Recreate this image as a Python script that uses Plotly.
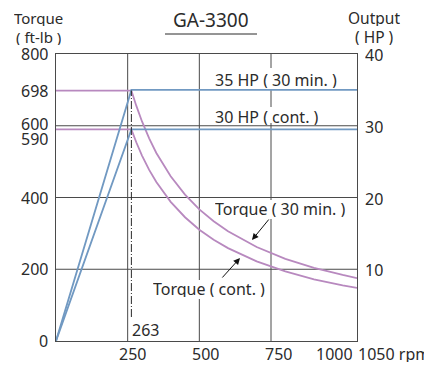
import plotly.graph_objects as go

# ---- data ----
power_rpm = [0, 263, 1050]
hp_30min = [0, 35, 35]
hp_cont = [0, 29.5, 29.5]

torque_rpm = [0, 263, 280, 300, 325, 350, 400, 450, 500, 550, 600, 700, 800, 900, 1000, 1050]
torque_30min = [698, 698, 656, 612, 565, 524, 459, 408, 367, 334, 306, 262, 229, 204, 184, 175]
torque_cont = [590, 590, 554, 517, 477, 443, 388, 345, 310, 282, 259, 222, 194, 172, 155, 148]

base_rpm = 263
x_ticks = [250, 500, 750, 1000, 1050]
x_tick_text = ["250", "500", "750", "1000", "1050 rpm"]
y_ticks = [0, 200, 400, 590, 600, 698, 800]
y2_ticks = [10, 20, 30, 40]
grid_x = [250, 500, 750]
grid_y = [200, 400, 600]

BLUE = "#7199c2"
PURPLE = "#b889bf"
TEXT = "#2b2b2b"
GRID = "#4a4a4a"
FONT = "Noto Sans"
FS = 16

# page body has an 8px margin: work in window pixels, convert to figure
OFF = 8
L, R, T, B = 56, 357, 54, 341          # plot area in window pixels
W, H = 432 - OFF, 365 - OFF


def px(x, y):
    return (x - L) / (R - L), (B - y) / (B - T)


fig = go.Figure()

# grid lines
for gx in grid_x:
    fig.add_shape(type="line", xref="x", yref="paper", x0=gx, x1=gx, y0=0, y1=1,
                  line=dict(color=GRID, width=1), layer="below")
for gy in grid_y:
    fig.add_shape(type="line", xref="paper", yref="y", x0=0, x1=1, y0=gy, y1=gy,
                  line=dict(color=GRID, width=1), layer="below")

# white knock-outs behind the curve labels (below traces, above grid)
for (x0, y0, x1, y1) in [(212, 68, 341, 89), (212, 107, 323, 123),
                         (212, 200, 350, 219), (150, 280, 268, 299)]:
    a0, b0 = px(x0, y1)
    a1, b1 = px(x1, y0)
    fig.add_shape(type="rect", xref="paper", yref="paper", x0=a0, x1=a1, y0=b0, y1=b1,
                  fillcolor="white", line=dict(width=0), layer="below")

fig.add_trace(go.Scatter(x=torque_rpm, y=torque_30min, mode="lines",
                         line=dict(color=PURPLE, width=1.8), hoverinfo="skip"))
fig.add_trace(go.Scatter(x=torque_rpm, y=torque_cont, mode="lines",
                         line=dict(color=PURPLE, width=1.8), hoverinfo="skip"))
fig.add_trace(go.Scatter(x=power_rpm, y=hp_30min, mode="lines", yaxis="y2",
                         line=dict(color=BLUE, width=1.8), hoverinfo="skip"))
fig.add_trace(go.Scatter(x=power_rpm, y=hp_cont, mode="lines", yaxis="y2",
                         line=dict(color=BLUE, width=1.8), hoverinfo="skip"))

# dashed base speed line
_, ybot = px(0, 317)
fig.add_shape(type="line", xref="x", yref="paper", x0=base_rpm, x1=base_rpm,
              y0=ybot, y1=torque_30min[1] / 800,
              line=dict(color=TEXT, width=1, dash="8px,2px,1px,2px"))

ann = []


def text(s, x, y, xanchor="center", size=FS, h=16):
    xp, yp = px(x, y)
    ann.append(dict(text=s, xref="paper", yref="paper", x=xp, y=yp, xanchor=xanchor,
                    yanchor="middle", showarrow=False, height=h, borderpad=0,
                    font=dict(family=FONT, size=size, color=TEXT)))


# left tick labels
left_shift = {590: 10, 600: -2}
for v in y_ticks:
    ypix = B - v / 800 * (B - T) + left_shift.get(v, 0)
    text(str(v), 49, ypix, xanchor="right", h=14)
# right tick labels
for v in y2_ticks:
    ypix = B - v / 40 * (B - T)
    text(str(v), 364, ypix + 1, xanchor="left")
# bottom tick labels
x_shift = {250: 5, 500: 6, 750: 7, 1000: -8}
for v, t in zip(x_ticks, x_tick_text):
    xpix = L + v / 1050 * (R - L)
    if v == 1050:
        text(t, 357, 354, xanchor="left")
    else:
        text(t, xpix + x_shift[v], 354)

text(str(base_rpm), 131, 330, xanchor="left")

# axis titles
text("Torque", 38, 18, size=15)
text("( ft-lb )", 38, 37, size=15)
text("Output", 374, 18, size=15.5)
text("( HP )", 374, 37, size=15.5)
text("GA-3300", 211, 20, size=19, h=20)
fig.add_shape(type="line", xref="paper", yref="paper",
              x0=px(165, 0)[0], x1=px(257, 0)[0], y0=px(0, 34)[1], y1=px(0, 34)[1],
              line=dict(color=TEXT, width=1))

# curve labels
text("35 HP ( 30 min. )", 214, 80, xanchor="left")
text("30 HP ( cont. )", 214, 117, xanchor="left")
text("Torque ( 30 min. )", 214, 209, xanchor="left")
text("Torque ( cont. )", 152, 289, xanchor="left")

# arrows (tail -> head, in pixels)
for (x0, y0, x1, y1) in [(270, 218, 252, 240), (221, 279, 240, 258)]:
    hx, hy = px(x1, y1)
    ann.append(dict(xref="paper", yref="paper", x=hx, y=hy, ax=x0 - x1, ay=y0 - y1,
                    axref="pixel", ayref="pixel", showarrow=True, arrowhead=2,
                    arrowsize=1.3, arrowwidth=1, arrowcolor="#111", text=""))

fig.update_layout(
    width=W, height=H,
    margin=dict(l=L - OFF, r=W - (R - OFF), t=T - OFF, b=H - (B - OFF), pad=0),
    paper_bgcolor="white", plot_bgcolor="white",
    showlegend=False,
    annotations=ann,
    xaxis=dict(range=[0, 1050], showgrid=False, zeroline=False, showticklabels=False,
               ticks="", showline=True, mirror=True, linecolor=GRID, linewidth=1.2),
    yaxis=dict(range=[0, 800], showgrid=False, zeroline=False, showticklabels=False,
               ticks="", showline=True, mirror=True, linecolor=GRID, linewidth=1.2),
    yaxis2=dict(range=[0, 40], overlaying="y", side="right", showgrid=False,
                zeroline=False, showticklabels=False, ticks="", showline=False),
)

fig.write_html("out.html")
